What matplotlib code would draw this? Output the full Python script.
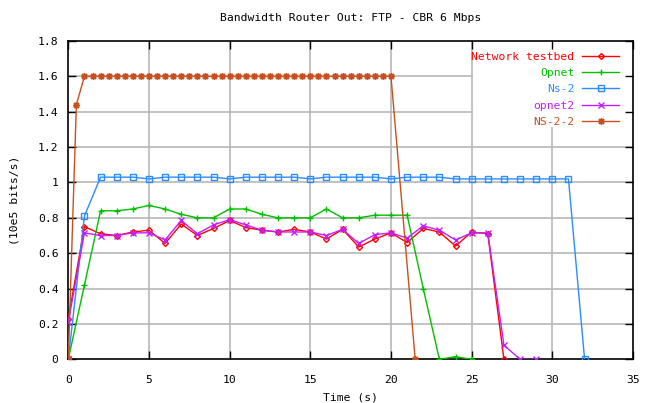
import numpy as np
import matplotlib.pyplot as plt
from matplotlib.patches import Rectangle

# time axes (s)
t_testbed = np.arange(0, 28)
t_opnet = np.arange(0, 26)
t_ns2 = np.arange(0, 33)
t_opnet2 = np.arange(0, 30)
t_ns22 = [0.0, 0.5, 1.0, 1.5, 2.0, 2.5, 3.0, 3.5, 4.0, 4.5, 5.0, 5.5, 6.0, 6.5,
          7.0, 7.5, 8.0, 8.5, 9.0, 9.5, 10.0, 10.5, 11.0, 11.5, 12.0, 12.5,
          13.0, 13.5, 14.0, 14.5, 15.0, 15.5, 16.0, 16.5, 17.0, 17.5, 18.0,
          18.5, 19.0, 19.5, 20.0, 21.5]

# bandwidth (10e5 bits/s)
testbed = [0.23, 0.75, 0.71, 0.70, 0.72, 0.73, 0.655, 0.765, 0.70, 0.74,
           0.785, 0.745, 0.73, 0.72, 0.735, 0.72, 0.68, 0.735, 0.635, 0.68,
           0.715, 0.66, 0.74, 0.72, 0.64, 0.72, 0.71, 0.0]
opnet = [0.0, 0.42, 0.84, 0.84, 0.85, 0.87, 0.85, 0.82, 0.80, 0.80, 0.85,
         0.85, 0.82, 0.80, 0.80, 0.80, 0.85, 0.80, 0.80, 0.815, 0.815, 0.815,
         0.40, 0.0, 0.015, 0.0]
ns2 = [0.0, 0.81, 1.03, 1.03, 1.03, 1.02, 1.03, 1.03, 1.03, 1.03, 1.02,
       1.03, 1.03, 1.03, 1.03, 1.02, 1.03, 1.03, 1.03, 1.03, 1.02, 1.03,
       1.03, 1.03, 1.02, 1.02, 1.02, 1.02, 1.02, 1.02, 1.02, 1.02, 0.0]
opnet2 = [0.21, 0.715, 0.70, 0.70, 0.715, 0.715, 0.675, 0.785, 0.71, 0.76,
          0.79, 0.76, 0.73, 0.72, 0.72, 0.72, 0.70, 0.735, 0.655, 0.705,
          0.715, 0.685, 0.755, 0.73, 0.675, 0.715, 0.715, 0.08, 0.0, 0.0]
ns22 = [0.0, 1.44, 1.6, 1.6, 1.6, 1.6, 1.6, 1.6, 1.6, 1.6, 1.6, 1.6, 1.6,
        1.6, 1.6, 1.6, 1.6, 1.6, 1.6, 1.6, 1.6, 1.6, 1.6, 1.6, 1.6, 1.6,
        1.6, 1.6, 1.6, 1.6, 1.6, 1.6, 1.6, 1.6, 1.6, 1.6, 1.6, 1.6, 1.6,
        1.6, 1.6, 0.0]

xticks = [0, 5, 10, 15, 20, 25, 30, 35]
yticks = [0, 0.2, 0.4, 0.6, 0.8, 1, 1.2, 1.4, 1.6, 1.8]
ytick_labels = ['0', '0.2', '0.4', '0.6', '0.8', '1', '1.2', '1.4', '1.6', '1.8']

plt.rcParams['font.family'] = ['DejaVu Sans Mono']
fs = 8.2

fig = plt.figure(figsize=(6.61, 4.03), dpi=100)
ax = fig.add_axes([68.3 / 661, 1 - 359.3 / 403, (633 - 68.3) / 661, (359.3 - 41) / 403])

# grid drawn by hand so the key box can hide it but not the ticks
for v in xticks[1:-1]:
    ax.axvline(v, color='#b8b8b8', lw=1.2, zorder=0.5)
for v in yticks[1:-1]:
    ax.axhline(v, color='#b8b8b8', lw=1.2, zorder=0.5)
ax.add_patch(Rectangle((0.7167, 0.731), 0.2833, 0.269, transform=ax.transAxes,
                       facecolor='white', edgecolor='none', zorder=1))

ax.plot(t_testbed, testbed, '-', color='#ff0000', lw=1, marker='D', ms=3,
        mfc='none', mew=1, label='Network testbed', zorder=3)
ax.plot(t_opnet, opnet, '-', color='#00c000', lw=1, marker='+', ms=5,
        mew=1, label='Opnet', zorder=3)
ax.plot(t_ns2, ns2, '-', color='#2a8cff', lw=1, marker='s', ms=4,
        mfc='none', mew=1, label='Ns-2', zorder=3)
ax.plot(t_opnet2, opnet2, '-', color='#c020ff', lw=1, marker='x', ms=4,
        mew=1, label='opnet2', zorder=3)
ax.plot(t_ns22, ns22, '-', color='#c8501e', lw=1, marker=(8, 2, 0), ms=5,
        mew=1, label='NS-2-2', zorder=3)

ax.set_xlim(0, 35)
ax.set_ylim(0, 1.8)
ax.set_xticks(xticks)
ax.set_yticks(yticks)
ax.set_yticklabels(ytick_labels)
ax.tick_params(direction='in', length=6, width=1, top=True, right=True,
               labelsize=fs, color='black')
ax.tick_params(axis='x', pad=11)
ax.tick_params(axis='y', pad=7)
for s in ax.spines.values():
    s.set_linewidth(1.2)

ax.set_xlabel('Time (s)', fontsize=fs, labelpad=6)
fig.text(15 / 661, 1 - 200 / 403, '(10e5 bits/s)', rotation=90, fontsize=fs,
         ha='center', va='center')
fig.text(350.7 / 661, 1 - 17.7 / 403, 'Bandwidth Router Out: FTP - CBR 6 Mbps',
         fontsize=fs, ha='center', va='center')

leg = ax.legend(loc='upper right', bbox_to_anchor=(0.975, 0.966), frameon=False,
                markerfirst=False, numpoints=1, fontsize=fs, handlelength=3.2,
                handletextpad=0.7, labelspacing=0.55, borderpad=0, borderaxespad=0)
for txt, line in zip(leg.get_texts(), leg.get_lines()):
    txt.set_color(line.get_color())

fig.savefig('out.png', dpi=100)
